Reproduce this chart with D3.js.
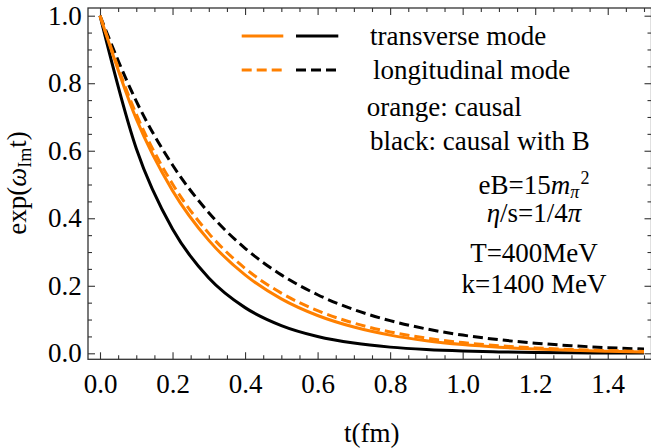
<!DOCTYPE html>
<html>
<head>
<meta charset="utf-8">
<script src="https://cdn.jsdelivr.net/npm/d3@7"></script>
<style>
  body { margin: 0; background: #fff; }
  svg text { font-family: "Liberation Serif", "Times New Roman", serif; fill: #000; }
</style>
</head>
<body>
<div id="chart"></div>
<script>
// time grid (fm) and the values
const T_FM = [0, 0.1, 0.2, 0.3, 0.4, 0.5, 0.6, 0.7, 0.8, 0.9, 1.0, 1.1, 1.2, 1.3, 1.4, 1.5]

const TRANSVERSE_CAUSAL = [1, 0.6942, 0.4819, 0.3345, 0.2322, 0.1612, 0.1119, 0.0777, 0.0539, 0.0374, 0.0260, 0.0180, 0.0125, 0.0087, 0.0060, 0.0042]
const LONGITUDINAL_CAUSAL = [1, 0.7082, 0.5016, 0.3552, 0.2516, 0.1782, 0.1262, 0.0894, 0.0633, 0.0448, 0.0317, 0.0225, 0.0159, 0.0113, 0.0080, 0.0057]
const TRANSVERSE_B = [1, 0.6065, 0.3679, 0.2231, 0.1353, 0.0821, 0.0498, 0.0302, 0.0183, 0.0111, 0.0067, 0.0041, 0.0025, 0.0015, 0.0009, 0.0006]
const LONGITUDINAL_B = [1, 0.7468, 0.5577, 0.4165, 0.3110, 0.2323, 0.1735, 0.1295, 0.0967, 0.0722, 0.0539, 0.0403, 0.0301, 0.0225, 0.0168, 0.0125]

const X_TICKS = [0, 0.2, 0.4, 0.6, 0.8, 1.0, 1.2, 1.4]
const Y_TICKS = [0, 0.2, 0.4, 0.6, 0.8, 1.0]

const ORANGE = '#ff8000'
const WIDTH = 651
const HEIGHT = 448
const FRAME = { left: 88, top: 8, right: 651.5, bottom: 359.3 }
const FONT = 27

const TICK_FORMAT = d3.format('.1f')

let svg = d3.select('#chart')
  .append('svg')
    .attr('width', WIDTH)
    .attr('height', HEIGHT)

let x = d3.scaleLinear().domain([0, 1.5]).range([100, 644])
let y = d3.scaleLinear().domain([0, 1]).range([353.3, 15.7])

let minor_x = d3.range(0, 1.5001, 0.05).filter((v) => Math.abs(v * 5 - Math.round(v * 5)) > 1e-6)
let minor_y = d3.range(0, 1.0001, 0.05).filter((v) => Math.abs(v * 5 - Math.round(v * 5)) > 1e-6)

// frame
svg.append('rect')
  .attr('x', FRAME.left)
  .attr('y', FRAME.top)
  .attr('width', FRAME.right - FRAME.left)
  .attr('height', FRAME.bottom - FRAME.top)
  .attr('fill', 'none')
  .attr('stroke', '#333')
  .attr('stroke-width', 1.3)

function ticks(axis, pos, values, size, labels, padding) {
  let g = svg.append('g')
    .attr('transform', pos)
    .call(axis
      .tickValues(values)
      .tickSizeInner(-size)
      .tickSizeOuter(0)
      .tickPadding(padding || 0)
      .tickFormat(labels ? TICK_FORMAT : ''))
  g.select('.domain').remove()
  g.selectAll('line').attr('stroke', '#333').attr('stroke-width', 1.1)
  g.attr('font-family', null).attr('font-size', null)
  g.selectAll('text').attr('font-size', FONT + 'px').attr('fill', '#000')
  return g
}

// bottom / left with labels, top / right mirrored
ticks(d3.axisBottom(x), 'translate(0,' + FRAME.bottom + ')', X_TICKS, 7, true, 14.8)
ticks(d3.axisBottom(x), 'translate(0,' + FRAME.bottom + ')', minor_x, 4, false)
ticks(d3.axisTop(x), 'translate(0,' + FRAME.top + ')', X_TICKS, 7, false)
ticks(d3.axisTop(x), 'translate(0,' + FRAME.top + ')', minor_x, 4, false)
ticks(d3.axisLeft(y), 'translate(' + FRAME.left + ',0)', Y_TICKS, 7, true, 6.3)
ticks(d3.axisLeft(y), 'translate(' + FRAME.left + ',0)', minor_y, 4, false)
ticks(d3.axisRight(y), 'translate(' + FRAME.right + ',0)', Y_TICKS, 7, false)
ticks(d3.axisRight(y), 'translate(' + FRAME.right + ',0)', minor_y, 4, false)

// curves
let series = [
  { values: TRANSVERSE_B, color: '#000', dash: null },
  { values: LONGITUDINAL_B, color: '#000', dash: '10,5' },
  { values: TRANSVERSE_CAUSAL, color: ORANGE, dash: null },
  { values: LONGITUDINAL_CAUSAL, color: ORANGE, dash: '10,5' }
]

let line = d3.line()
  .x((d) => x(d[0]))
  .y((d) => y(d[1]))
  .curve(d3.curveMonotoneX)

svg.append('g')
  .selectAll('path')
  .data(series)
  .enter().append('path')
    .attr('d', (s) => line(T_FM.map((t, i) => [t, s.values[i]])))
    .attr('fill', 'none')
    .attr('stroke', (s) => s.color)
    .attr('stroke-width', 3)
    .attr('stroke-dasharray', (s) => s.dash)

// legend
let legend = [
  { x1: 241.7, x2: 283.3, y: 36, color: ORANGE, dash: null },
  { x1: 296, x2: 338.3, y: 36, color: '#000', dash: null },
  { x1: 241.7, x2: 281.7, y: 70, color: ORANGE, dash: '10,5' },
  { x1: 296, x2: 336.7, y: 70, color: '#000', dash: '10,5' }
]

svg.append('g')
  .selectAll('line')
  .data(legend)
  .enter().append('line')
    .attr('x1', (d) => d.x1)
    .attr('x2', (d) => d.x2)
    .attr('y1', (d) => d.y)
    .attr('y2', (d) => d.y)
    .attr('stroke', (d) => d.color)
    .attr('stroke-width', 3)
    .attr('stroke-dasharray', (d) => d.dash)

function label(px, py, anchor) {
  return svg.append('text')
    .attr('x', px)
    .attr('y', py)
    .attr('text-anchor', anchor || 'start')
    .attr('font-size', FONT + 'px')
}

label(370, 45).text('transverse mode')
label(373, 79).text('longitudinal mode')
label(366.7, 116).text('orange: causal')
label(370, 150).text('black: causal with B')

let eb = label(534, 194, 'middle')
eb.append('tspan').text('eB=15')
eb.append('tspan').attr('font-style', 'italic').text('m')
eb.append('tspan').attr('font-style', 'italic').attr('font-size', '18px').attr('dy', 4).text('π')
eb.append('tspan').attr('font-size', '18px').attr('dx', 1).attr('dy', -14).text('2')

let eta = label(534, 222, 'middle')
eta.append('tspan').attr('font-style', 'italic').text('η')
eta.append('tspan').text('/s=1/4')
eta.append('tspan').attr('font-style', 'italic').text('π')

label(534, 262, 'middle').text('T=400MeV')
label(534, 293, 'middle').text('k=1400 MeV')

// axis titles
label(371.7, 441.7, 'middle').text('t(fm)')

let ylab = svg.append('text')
  .attr('transform', 'translate(26,183) rotate(-90)')
  .attr('text-anchor', 'middle')
  .attr('font-size', FONT + 'px')
ylab.append('tspan').text('exp(')
ylab.append('tspan').attr('font-style', 'italic').text('ω')
ylab.append('tspan').attr('font-size', '18px').attr('dy', 5).text('Im')
ylab.append('tspan').attr('dy', -5).text('t)')
</script>
</body>
</html>
